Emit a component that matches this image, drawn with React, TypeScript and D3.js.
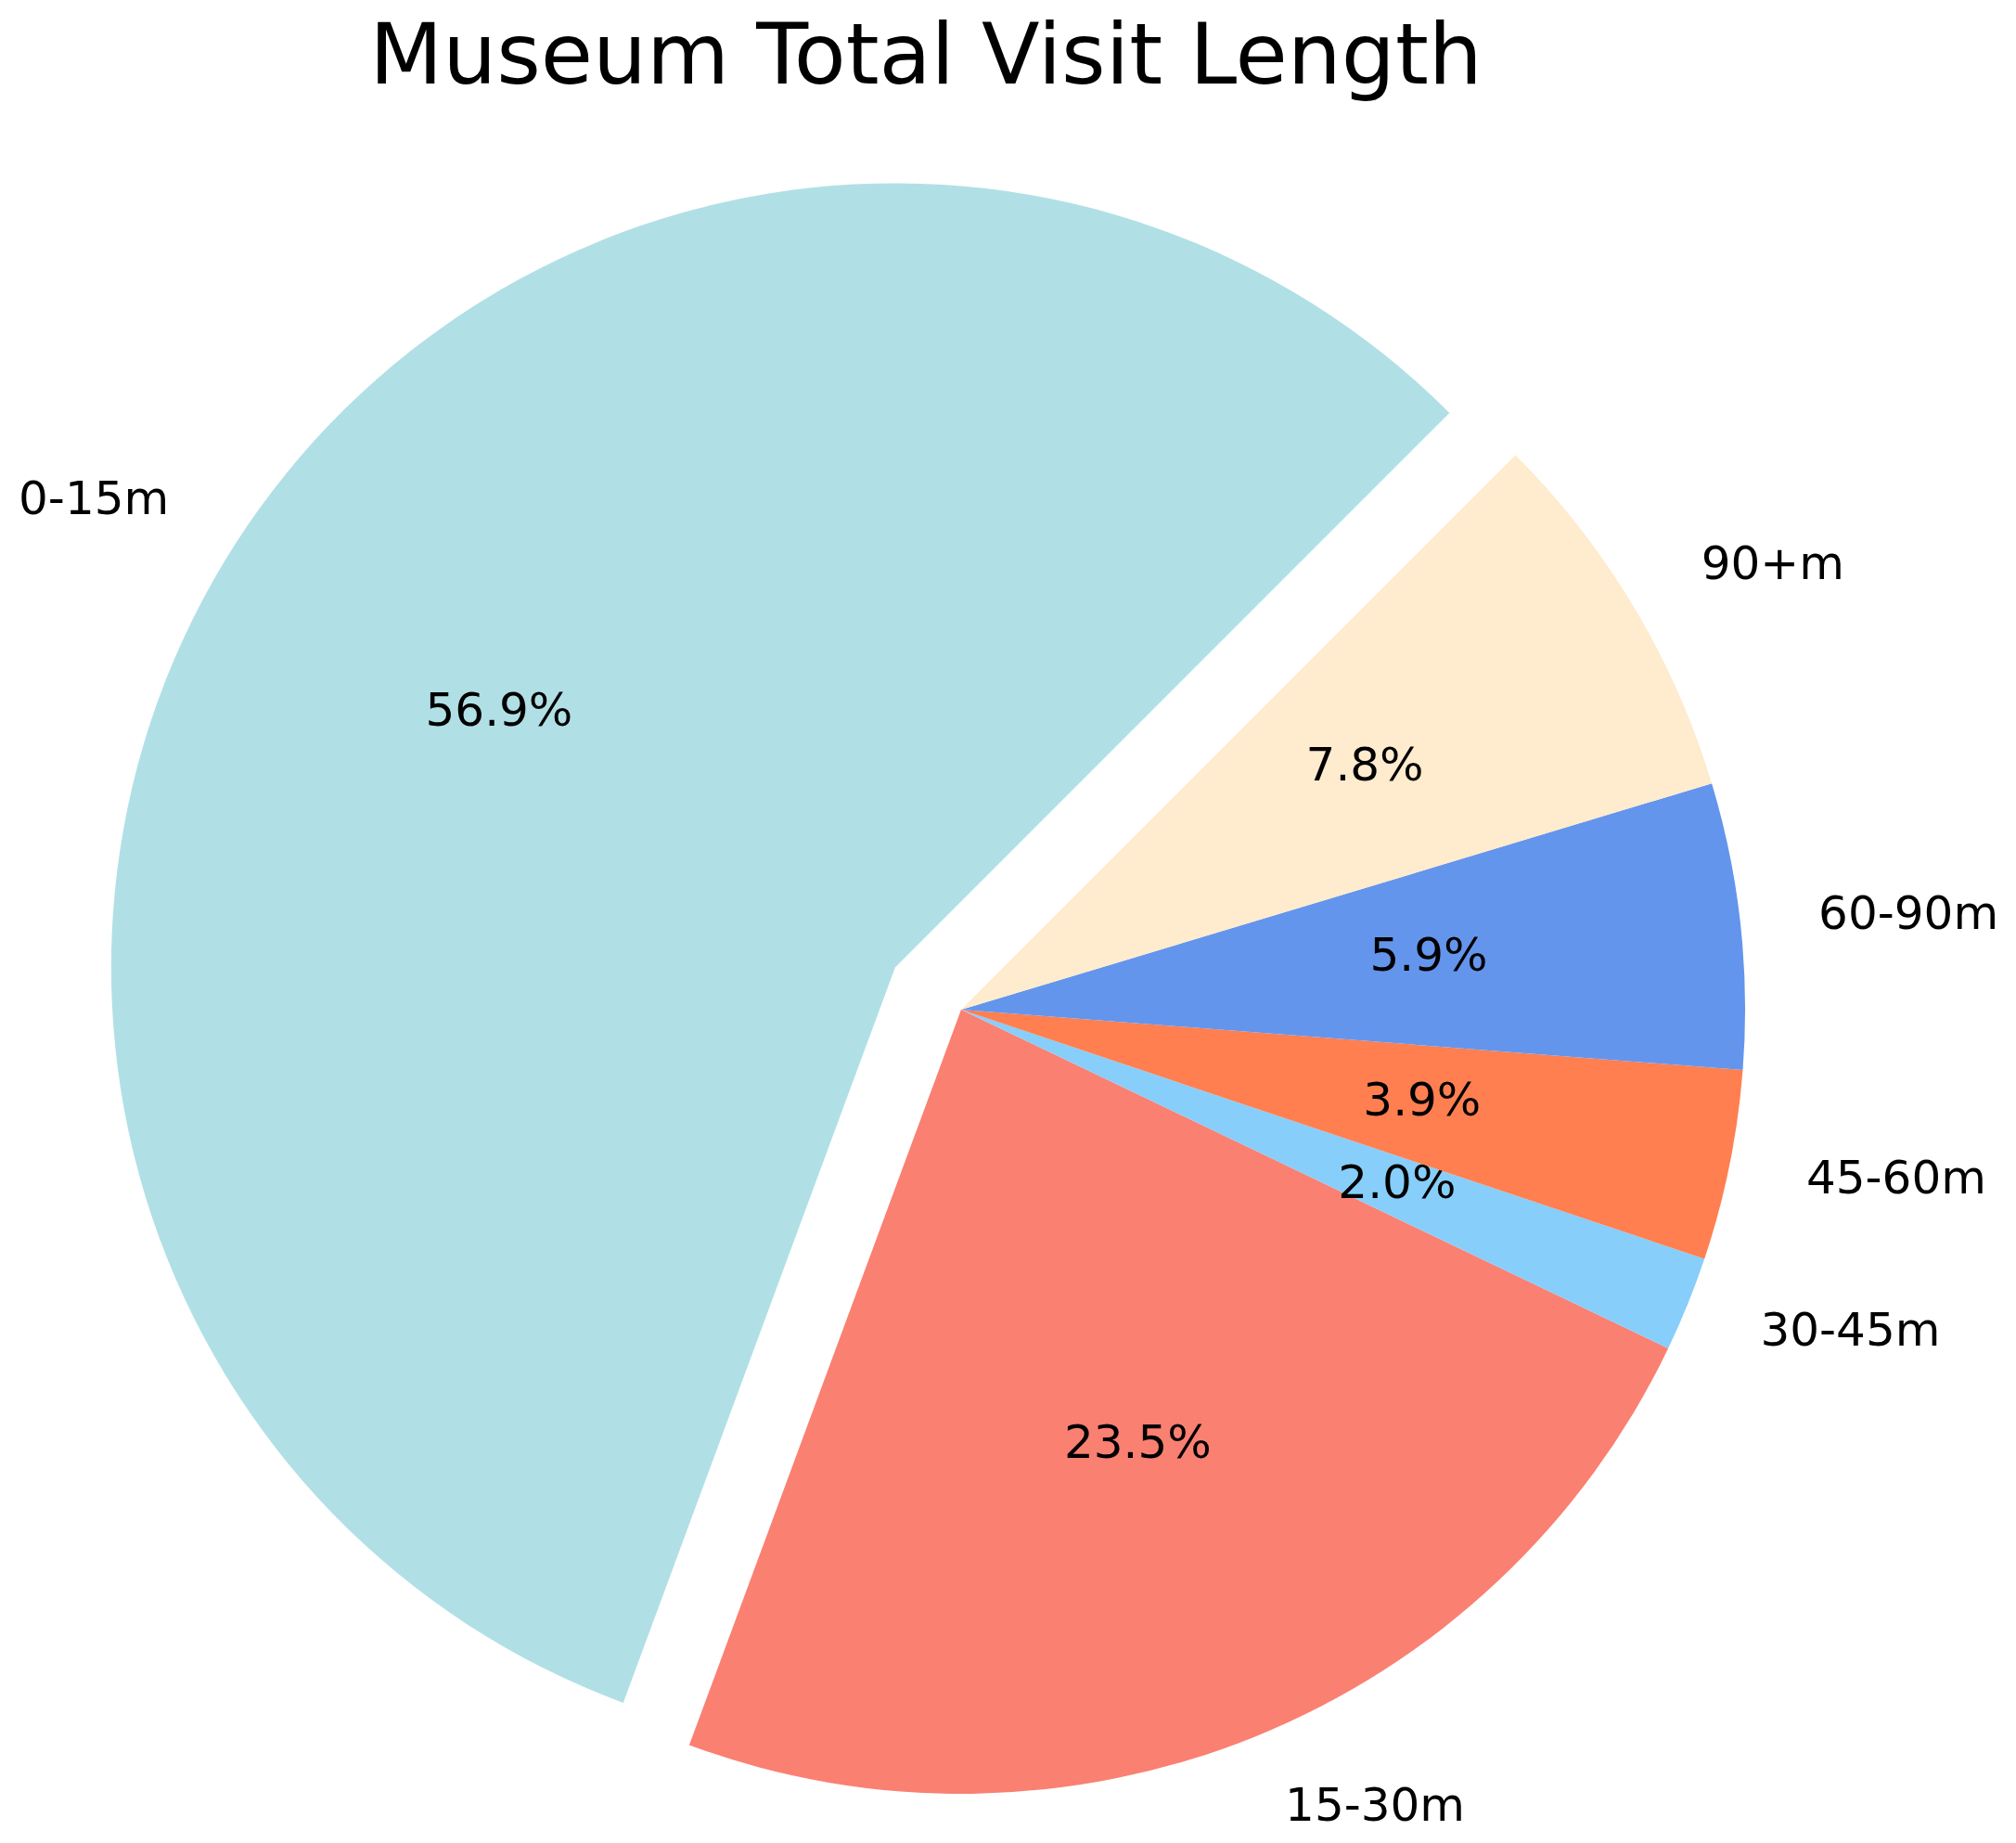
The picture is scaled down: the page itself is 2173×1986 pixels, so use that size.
import React, { useEffect, useRef } from 'react';
import * as d3 from 'd3';

const categories = ['0-15m', '15-30m', '30-45m', '45-60m', '60-90m', '90+m'];
const visitCounts = [29, 12, 1, 2, 3, 4];
const sliceColors = ['#B0E0E6', '#FA8072', '#87CEFA', '#FF7F50', '#6495ED', '#FFEBCD'];
const explodeFactors = [0.1, 0, 0, 0, 0, 0];

const W = 2173;
const H = 1986;

const App = () => {
  const chartRef = useRef<SVGSVGElement>(null);

  useEffect(() => {
    const svg = d3.select(chartRef.current);
    svg.selectAll('*').remove();

    const cx = 1036;
    const cy = 1088;
    const radius = 845;
    const font = 'DejaVu Sans, sans-serif';
    const fs = 50;

    const data = categories.map((c, i) => ({ name: c, value: visitCounts[i], color: sliceColors[i], explode: explodeFactors[i] }));
    const total = d3.sum(visitCounts);

    // matplotlib startangle=45, counterclockwise -> d3 angles (clockwise from 12 o'clock)
    const start = Math.PI / 4;
    const pie = d3.pie<any>()
      .value(d => d.value)
      .sort(null)
      .startAngle(start)
      .endAngle(start - 2 * Math.PI);

    const arc = d3.arc<any>().innerRadius(0).outerRadius(radius);
    const arcs = pie(data);

    const g = svg.append('g').attr('transform', `translate(${cx},${cy})`);

    arcs.forEach(a => {
      const mid = (a.startAngle + a.endAngle) / 2;
      const ex = Math.sin(mid) * radius * a.data.explode;
      const ey = -Math.cos(mid) * radius * a.data.explode;
      const sg = g.append('g').attr('transform', `translate(${ex},${ey})`);

      sg.append('path')
        .attr('d', arc(a))
        .style('fill', a.data.color);

      // category label at 1.1 r
      const lx = Math.sin(mid) * radius * 1.1;
      const ly = -Math.cos(mid) * radius * 1.1;
      sg.append('text')
        .attr('x', lx)
        .attr('y', ly + fs * 0.26)
        .attr('text-anchor', lx > 0 ? 'start' : 'end')
        .style('font-family', font)
        .style('font-size', `${fs}px`)
        .style('fill', '#000')
        .text(a.data.name);

      // percentage at 0.6 r
      const px = Math.sin(mid) * radius * 0.6;
      const py = -Math.cos(mid) * radius * 0.6;
      sg.append('text')
        .attr('x', px)
        .attr('y', py + fs * 0.26)
        .attr('text-anchor', 'middle')
        .style('font-family', font)
        .style('font-size', `${fs}px`)
        .style('fill', '#000')
        .text(`${((a.data.value / total) * 100).toFixed(1)}%`);
    });

    svg.append('text')
      .attr('x', 998)
      .attr('y', 90)
      .attr('text-anchor', 'middle')
      .style('font-family', font)
      .style('font-size', '91.5px')
      .style('fill', '#000')
      .text('Museum Total Visit Length');
  }, []);

  return (
    <div style={{ position: 'absolute', left: 0, top: 0 }}>
      <svg ref={chartRef} width={W} height={H} style={{ display: 'block', background: '#fff' }}></svg>
    </div>
  );
};

export default App;
